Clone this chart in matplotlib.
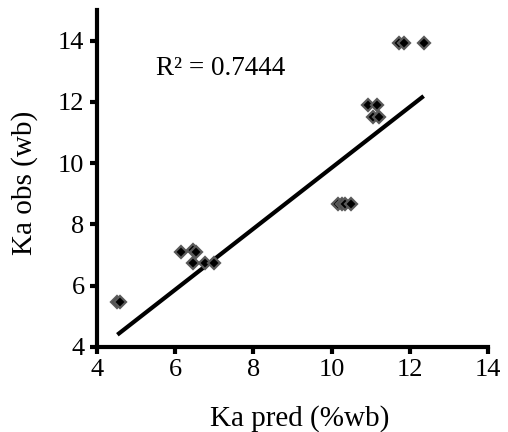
import numpy as np
import matplotlib
matplotlib.use('Agg')
import matplotlib.pyplot as plt

plt.rcParams['font.family'] = ['Liberation Serif', 'DejaVu Serif']

# Ka predicted vs observed (%wb)
ka_pred = [4.52, 4.58, 6.15, 6.45, 6.52, 6.45, 6.75, 7.00,
           10.15, 10.25, 10.35, 10.50, 10.92, 11.15, 11.05, 11.22,
           11.72, 11.85, 12.35]
ka_obs = [5.47, 5.45, 7.10, 7.15, 7.10, 6.75, 6.75, 6.75,
          8.65, 8.65, 8.65, 8.65, 11.90, 11.90, 11.50, 11.50,
          13.93, 13.93, 13.93]
# linear trendline as shown on the chart
trend_slope = 0.995
trend_icpt = -0.10
r2_label = 'R² = 0.7444'

x = np.array(ka_pred)
y = np.array(ka_obs)
xl = np.array([x.min(), x.max()])

fig = plt.figure(figsize=(5.08, 4.32), dpi=100)
ax = fig.add_axes([0.191, 0.197, 0.770, 0.780])

ax.plot(xl, trend_slope * xl + trend_icpt, color='black', lw=3,
        solid_capstyle='butt', zorder=2)
ax.plot(x, y, 'D', ms=6.6, mfc='black', mec='#5a5a5a', mew=1.6, zorder=3)
ax.text(5.5, 13.1, r2_label, fontsize=19.5, va='center', ha='left')

ax.set_xlim(4, 14)
ax.set_ylim(4, 15)
ax.set_xticks([4, 6, 8, 10, 12, 14])
ax.set_yticks([4, 6, 8, 10, 12, 14])
for s in ['top', 'right']:
    ax.spines[s].set_visible(False)
for s in ['left', 'bottom']:
    ax.spines[s].set_linewidth(3)
ax.tick_params(direction='out', length=5, width=3, labelsize=19, pad=4)
ax.set_xlabel('Ka pred (%wb)', fontsize=21)
ax.set_ylabel('Ka obs (wb)', fontsize=21)
ax.xaxis.set_label_coords(0.517, -0.172)
ax.yaxis.set_label_coords(-0.150, 0.487)

fig.savefig('out.png', dpi=100)
